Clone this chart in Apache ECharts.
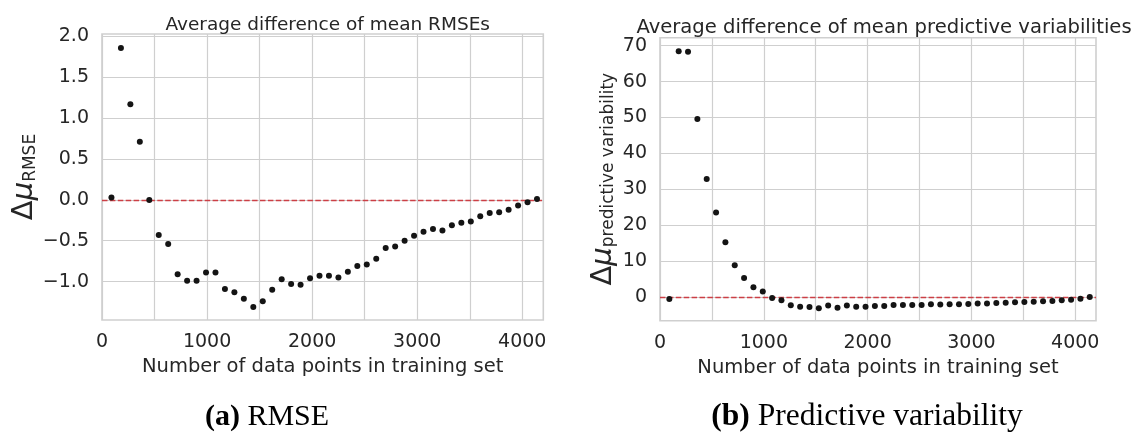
<!DOCTYPE html>
<html>
<head>
<meta charset="utf-8">
<script src="https://cdn.jsdelivr.net/npm/echarts@6/dist/echarts.min.js"></script>
<style>
html,body{margin:0;padding:0;background:#fff;}
#chart{width:1132px;height:440px;}
</style>
</head>
<body>
<div id="chart"></div>
<script>
// ---- data ----
const trainingSizes = [90,180,270,360,450,540,630,720,810,900,990,1080,1170,1260,1350,1440,1530,1620,1710,1800,1890,1980,2070,2160,2250,2340,2430,2520,2610,2700,2790,2880,2970,3060,3150,3240,3330,3420,3510,3600,3690,3780,3870,3960,4050,4140];
const rmseDiff = [0.03,1.86,1.17,0.71,0.0,-0.43,-0.54,-0.91,-0.99,-0.99,-0.89,-0.89,-1.09,-1.13,-1.21,-1.31,-1.24,-1.10,-0.97,-1.03,-1.04,-0.96,-0.93,-0.93,-0.95,-0.88,-0.81,-0.79,-0.72,-0.59,-0.57,-0.50,-0.44,-0.39,-0.355,-0.375,-0.31,-0.28,-0.265,-0.20,-0.16,-0.15,-0.12,-0.07,-0.03,0.01];
const predVarDiff = [-0.5,68.4,68.3,49.6,32.9,23.6,15.3,8.9,5.4,2.8,1.6,-0.2,-0.8,-2.2,-2.6,-2.7,-3.05,-2.3,-2.9,-2.3,-2.6,-2.6,-2.4,-2.4,-2.1,-2.1,-2.1,-2.1,-1.9,-2.0,-1.9,-1.9,-1.85,-1.7,-1.7,-1.6,-1.5,-1.4,-1.3,-1.2,-1.1,-1.0,-0.8,-0.65,-0.4,0.1];

const xGridValues = [0,500,1000,1500,2000,2500,3000,3500,4000];
const xTickLabels = [0,1000,2000,3000,4000];
const yGridRmse = [-1.0,-0.5,0.0,0.5,1.0,1.5,2.0];
const yGridVar = [0,10,20,30,40,50,60,70];

const titles = ['Average difference of mean RMSEs','Average difference of mean predictive variabilities'];
const xLabel = 'Number of data points in training set';
const captions = [['(a)','RMSE'],['(b)','Predictive variability']];

// ---- styles ----
const gridColor = '#cfcfcf';
const textColor = '#262626';
const sans = 'DejaVu Sans';
const tickSize = 19;

function xAxisCfg(gi){
  return {
    gridIndex: gi, type:'value', min:0, max:4200,
    axisLine:{show:false}, axisTick:{show:false}, splitLine:{show:false},
    axisLabel:{customValues:xTickLabels, formatter:v=>String(v), color:textColor, fontFamily:sans, fontSize:tickSize, lineHeight:19, margin:13},
    name:xLabel, nameLocation:'middle', nameGap:36,
    nameTextStyle:{color:textColor, fontFamily:sans, fontSize:19.5, lineHeight:19}
  };
}
function yAxisCfg(gi, min, max, ticks, fmt, sub, gap){
  return {
    gridIndex: gi, type:'value', min:min, max:max,
    axisLine:{show:false}, axisTick:{show:false}, splitLine:{show:false},
    axisLabel:{customValues:ticks, formatter:fmt, color:textColor, fontFamily:sans, fontSize:tickSize, margin:13},
    name:'{d|Δ}{m|μ}{s|' + sub + '}', nameLocation:'middle', nameRotate:90, nameGap:gap,
    nameTextStyle:{rich:{
      d:{fontFamily:sans, fontSize:29, lineHeight:29, color:textColor, verticalAlign:'bottom'},
      m:{fontFamily:sans, fontStyle:'italic', fontSize:29, lineHeight:29, color:textColor, verticalAlign:'bottom'},
      s:{fontFamily:sans, fontSize:17, lineHeight:20, color:textColor, verticalAlign:'bottom'}
    }}
  };
}
function gridSeries(gi, ys){
  const d = xGridValues.map(v=>({xAxis:v})).concat(ys.map(v=>({yAxis:v})));
  return {
    type:'line', xAxisIndex:gi, yAxisIndex:gi, data:[], z:1, silent:true,
    markLine:{z:1, silent:true, symbol:'none', animation:false, label:{show:false},
      lineStyle:{color:gridColor, type:'solid', width:1.2}, emphasis:{disabled:true}, data:d}
  };
}
function zeroSeries(gi){
  return {
    type:'line', xAxisIndex:gi, yAxisIndex:gi, data:[], z:4, silent:true,
    markLine:{z:4, silent:true, symbol:'none', animation:false, label:{show:false},
      lineStyle:{color:'#cc3f45', type:[5.5,2.4], width:1.3, opacity:1}, emphasis:{disabled:true}, data:[{yAxis:0}]}
  };
}
function dotSeries(gi, vals){
  return {
    type:'scatter', xAxisIndex:gi, yAxisIndex:gi, z:5, symbolSize:6,
    itemStyle:{color:'#141414', opacity:1},
    data: trainingSizes.map((x,i)=>[x, vals[i]])
  };
}

const chart = echarts.init(document.getElementById('chart'), null, {renderer:'canvas'});
chart.setOption({
  animation:false,
  backgroundColor:'#ffffff',
  title:[
    {text:titles[0], left:322.7, top:10, textAlign:'center', textStyle:{fontFamily:sans, fontSize:18.5, fontWeight:'normal', color:textColor, lineHeight:20}},
    {text:titles[1], left:879, top:13, textAlign:'center', textStyle:{fontFamily:sans, fontSize:19.6, fontWeight:'normal', color:textColor, lineHeight:20}},
    {text:'{b|' + captions[0][0] + '} ' + captions[0][1], left:262, top:397, textAlign:'center',
      textStyle:{fontFamily:'Liberation Serif', fontSize:30, fontWeight:'normal', color:'#000', lineHeight:30,
        rich:{b:{fontFamily:'Liberation Serif', fontSize:30, fontWeight:'bold', color:'#000', lineHeight:30}}}},
    {text:'{b|' + captions[1][0] + '} ' + captions[1][1], left:862, top:397, textAlign:'center',
      textStyle:{fontFamily:'Liberation Serif', fontSize:31.5, fontWeight:'normal', color:'#000', lineHeight:30,
        rich:{b:{fontFamily:'Liberation Serif', fontSize:31.5, fontWeight:'bold', color:'#000', lineHeight:30}}}}
  ],
  grid:[
    {left:102, right:588.7, top:34, bottom:120, show:true, borderColor:gridColor, borderWidth:1.6, backgroundColor:'#fff'},
    {left:660, right:36, top:37.7, bottom:119.3, show:true, borderColor:gridColor, borderWidth:1.6, backgroundColor:'#fff'}
  ],
  xAxis:[xAxisCfg(0), xAxisCfg(1)],
  yAxis:[
    yAxisCfg(0, -1.47, 2.03, yGridRmse, v=>v.toFixed(1).replace('-','\u2212'), 'RMSE', 63),
    yAxisCfg(1, -6.5, 72.2, yGridVar, v=>String(Math.round(v)), 'predictive variability', 42.5)
  ],
  series:[
    gridSeries(0, yGridRmse), gridSeries(1, yGridVar),
    zeroSeries(0), zeroSeries(1),
    dotSeries(0, rmseDiff), dotSeries(1, predVarDiff)
  ]
});
</script>
</body>
</html>
